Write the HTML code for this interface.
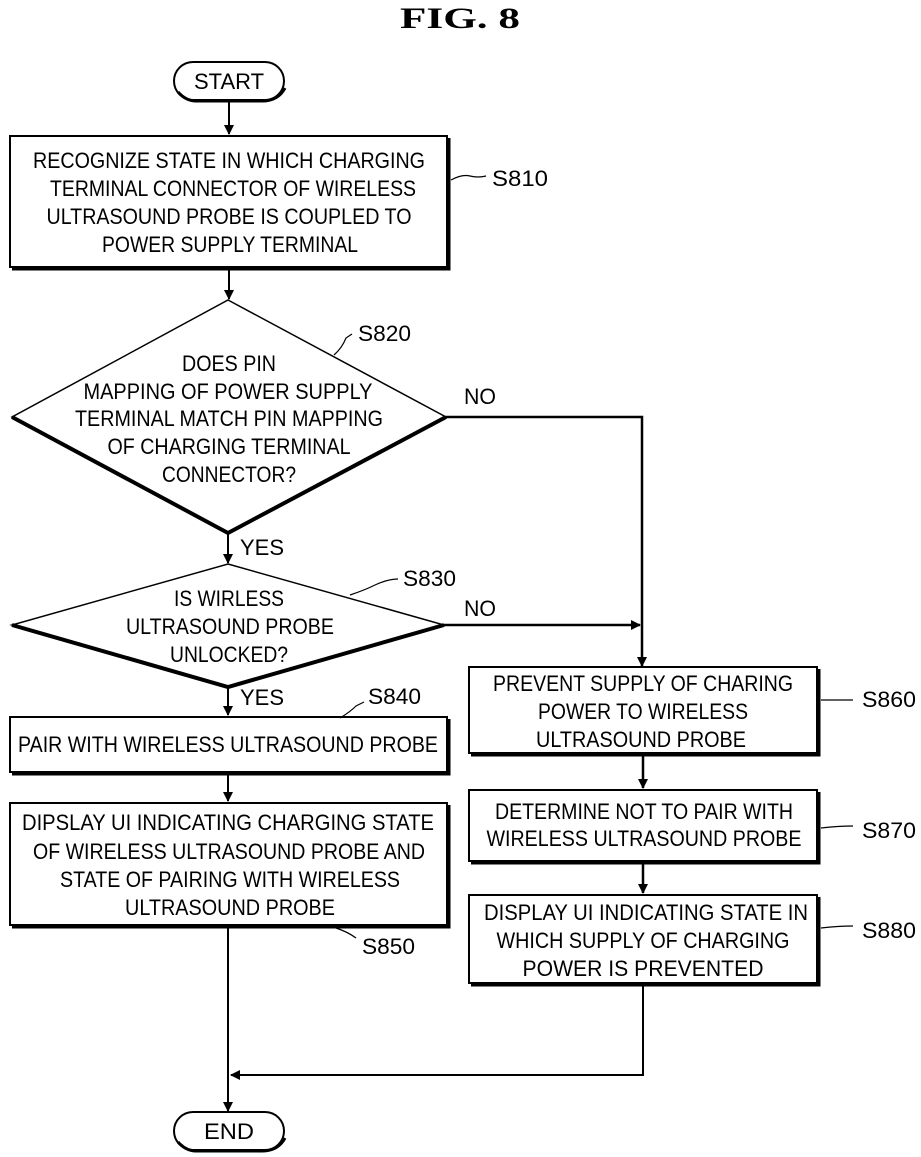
<!DOCTYPE html>
<html><head><meta charset="utf-8"><style>
html,body{margin:0;padding:0;background:#fff;}
svg{display:block;}
text{font-family:"Liberation Sans",sans-serif;font-size:22px;fill:#000;}
.c{text-anchor:middle;}
</style></head><body>
<svg width="921" height="1157" viewBox="0 0 921 1157" xmlns="http://www.w3.org/2000/svg">
<defs><marker id="a" markerWidth="10" markerHeight="14" refX="9" refY="7" orient="auto" markerUnits="userSpaceOnUse"><path d="M0,2 L10,7 L0,12 z" fill="#000"/></marker></defs>
<text x="460" y="28" class="c" style="font-family:'Liberation Serif',serif;font-size:30px;font-weight:bold" textLength="120" lengthAdjust="spacingAndGlyphs">FIG.  8</text>

<!-- START -->
<rect x="174" y="62" width="110" height="38" rx="19" fill="#fff" stroke="#000" stroke-width="2"/>
<path d="M178 92 Q186 101 196 101 L262 101 Q278 101 285 88" fill="none" stroke="#000" stroke-width="3"/>
<text x="229" y="89" class="c" textLength="70" lengthAdjust="spacingAndGlyphs">START</text>
<line x1="229" y1="101" x2="229" y2="134" stroke="#000" stroke-width="2" marker-end="url(#a)"/>

<!-- S810 -->
<rect x="10" y="136" width="437" height="131" fill="#fff" stroke="#000" stroke-width="2"/>
<path d="M12 269 L449 269 L449 138" fill="none" stroke="#000" stroke-width="3"/>
<text x="229" y="168" class="c" textLength="392" lengthAdjust="spacingAndGlyphs">RECOGNIZE STATE IN WHICH CHARGING</text>
<text x="233" y="196" class="c" textLength="366" lengthAdjust="spacingAndGlyphs">TERMINAL CONNECTOR OF WIRELESS</text>
<text x="229" y="224" class="c" textLength="365" lengthAdjust="spacingAndGlyphs">ULTRASOUND PROBE IS COUPLED TO</text>
<text x="230" y="252" class="c" textLength="256" lengthAdjust="spacingAndGlyphs">POWER SUPPLY TERMINAL</text>
<path d="M451 180 Q462 174 470 176 Q478 178 486 176" fill="none" stroke="#000" stroke-width="1.2"/>
<text x="492" y="186" textLength="56" lengthAdjust="spacingAndGlyphs">S810</text>
<line x1="229" y1="269" x2="229" y2="299" stroke="#000" stroke-width="2" marker-end="url(#a)"/>

<!-- S820 diamond -->
<path d="M228 300 L446 417 L228 533 L12 417 Z" fill="#fff" stroke="#000" stroke-width="1.5"/>
<path d="M12 417 L228 533 L446 417" fill="none" stroke="#000" stroke-width="4"/>
<text x="229" y="371" class="c" textLength="94" lengthAdjust="spacingAndGlyphs">DOES PIN</text>
<text x="228" y="399" class="c" textLength="289" lengthAdjust="spacingAndGlyphs">MAPPING OF POWER SUPPLY</text>
<text x="229" y="426" class="c" textLength="308" lengthAdjust="spacingAndGlyphs">TERMINAL MATCH PIN MAPPING</text>
<text x="229" y="454" class="c" textLength="243" lengthAdjust="spacingAndGlyphs">OF CHARGING TERMINAL</text>
<text x="229" y="482" class="c" textLength="134" lengthAdjust="spacingAndGlyphs">CONNECTOR?</text>
<path d="M334 355 Q342 348 346 338 L352 334" fill="none" stroke="#000" stroke-width="1.2"/>
<text x="358" y="341" textLength="53" lengthAdjust="spacingAndGlyphs">S820</text>
<text x="464" y="404" textLength="32" lengthAdjust="spacingAndGlyphs">NO</text>
<polyline points="446,417 642,417 642,666" fill="none" stroke="#000" stroke-width="2.5" marker-end="url(#a)"/>
<text x="240" y="555" textLength="44" lengthAdjust="spacingAndGlyphs">YES</text>
<line x1="228" y1="533" x2="228" y2="563" stroke="#000" stroke-width="2" marker-end="url(#a)"/>

<!-- S830 diamond -->
<path d="M228 564 L444 625 L228 687 L12 625 Z" fill="#fff" stroke="#000" stroke-width="1.5"/>
<path d="M12 625 L228 687 L444 625" fill="none" stroke="#000" stroke-width="4"/>
<text x="229" y="606" class="c" textLength="110" lengthAdjust="spacingAndGlyphs">IS WIRLESS</text>
<text x="230" y="634" class="c" textLength="208" lengthAdjust="spacingAndGlyphs">ULTRASOUND PROBE</text>
<text x="229" y="662" class="c" textLength="118" lengthAdjust="spacingAndGlyphs">UNLOCKED?</text>
<path d="M350 595 Q365 590 375 585 Q388 579 398 579" fill="none" stroke="#000" stroke-width="1.2"/>
<text x="403" y="586" textLength="53" lengthAdjust="spacingAndGlyphs">S830</text>
<text x="464" y="616" textLength="32" lengthAdjust="spacingAndGlyphs">NO</text>
<line x1="444" y1="625" x2="640" y2="625" stroke="#000" stroke-width="2.5" marker-end="url(#a)"/>
<text x="240" y="705" textLength="44" lengthAdjust="spacingAndGlyphs">YES</text>
<line x1="228" y1="687" x2="228" y2="715" stroke="#000" stroke-width="2" marker-end="url(#a)"/>

<!-- S840 -->
<rect x="10" y="717" width="437" height="55" fill="#fff" stroke="#000" stroke-width="2"/>
<path d="M12 774 L449 774 L449 719" fill="none" stroke="#000" stroke-width="3"/>
<text x="228" y="752" class="c" textLength="420" lengthAdjust="spacingAndGlyphs">PAIR WITH WIRELESS ULTRASOUND PROBE</text>
<path d="M340 718 Q350 712 356 706 L364 702" fill="none" stroke="#000" stroke-width="1.2"/>
<text x="368" y="704" textLength="53" lengthAdjust="spacingAndGlyphs">S840</text>
<line x1="228" y1="774" x2="228" y2="801" stroke="#000" stroke-width="2" marker-end="url(#a)"/>

<!-- S850 -->
<rect x="10" y="803" width="437" height="122" fill="#fff" stroke="#000" stroke-width="2"/>
<path d="M12 927 L449 927 L449 805" fill="none" stroke="#000" stroke-width="3"/>
<text x="228" y="830" class="c" textLength="412" lengthAdjust="spacingAndGlyphs">DIPSLAY UI INDICATING  CHARGING STATE</text>
<text x="229" y="859" class="c" textLength="392" lengthAdjust="spacingAndGlyphs">OF WIRELESS ULTRASOUND PROBE AND</text>
<text x="230" y="887" class="c" textLength="340" lengthAdjust="spacingAndGlyphs">STATE OF PAIRING WITH WIRELESS</text>
<text x="230" y="915" class="c" textLength="210" lengthAdjust="spacingAndGlyphs">ULTRASOUND PROBE</text>
<path d="M336 928 Q348 932 356 938" fill="none" stroke="#000" stroke-width="1.2"/>
<text x="362" y="954" textLength="53" lengthAdjust="spacingAndGlyphs">S850</text>
<line x1="228" y1="927" x2="228" y2="1111" stroke="#000" stroke-width="2" marker-end="url(#a)"/>

<!-- S860 -->
<rect x="469" y="667" width="348" height="86" fill="#fff" stroke="#000" stroke-width="2"/>
<path d="M471 755 L819 755 L819 669" fill="none" stroke="#000" stroke-width="3"/>
<text x="643" y="691" class="c" textLength="300" lengthAdjust="spacingAndGlyphs">PREVENT SUPPLY OF CHARING</text>
<text x="643" y="719" class="c" textLength="210" lengthAdjust="spacingAndGlyphs">POWER TO WIRELESS</text>
<text x="641" y="747" class="c" textLength="210" lengthAdjust="spacingAndGlyphs">ULTRASOUND PROBE</text>
<path d="M821 700 L853 700" fill="none" stroke="#000" stroke-width="1.2"/>
<text x="862" y="707" textLength="54" lengthAdjust="spacingAndGlyphs">S860</text>
<line x1="643" y1="755" x2="643" y2="788" stroke="#000" stroke-width="2.5" marker-end="url(#a)"/>

<!-- S870 -->
<rect x="469" y="790" width="348" height="71" fill="#fff" stroke="#000" stroke-width="2"/>
<path d="M471 863 L819 863 L819 792" fill="none" stroke="#000" stroke-width="3"/>
<text x="644" y="819" class="c" textLength="298" lengthAdjust="spacingAndGlyphs">DETERMINE NOT TO PAIR WITH</text>
<text x="644" y="846" class="c" textLength="315" lengthAdjust="spacingAndGlyphs">WIRELESS ULTRASOUND PROBE</text>
<path d="M821 828 Q838 826 853 826" fill="none" stroke="#000" stroke-width="1.2"/>
<text x="862" y="838" textLength="54" lengthAdjust="spacingAndGlyphs">S870</text>
<line x1="643" y1="863" x2="643" y2="893" stroke="#000" stroke-width="2.5" marker-end="url(#a)"/>

<!-- S880 -->
<rect x="469" y="895" width="348" height="88" fill="#fff" stroke="#000" stroke-width="2"/>
<path d="M471 985 L819 985 L819 897" fill="none" stroke="#000" stroke-width="3"/>
<text x="646" y="920" class="c" textLength="324" lengthAdjust="spacingAndGlyphs">DISPLAY UI INDICATING STATE IN</text>
<text x="643" y="948" class="c" textLength="293" lengthAdjust="spacingAndGlyphs">WHICH SUPPLY OF CHARGING</text>
<text x="643" y="976" class="c" textLength="241" lengthAdjust="spacingAndGlyphs">POWER IS PREVENTED</text>
<path d="M821 928 Q838 926 853 926" fill="none" stroke="#000" stroke-width="1.2"/>
<text x="862" y="938" textLength="54" lengthAdjust="spacingAndGlyphs">S880</text>
<polyline points="643,985 643,1075 231,1075" fill="none" stroke="#000" stroke-width="2" marker-end="url(#a)"/>

<!-- END -->
<rect x="174" y="1112" width="110" height="38" rx="19" fill="#fff" stroke="#000" stroke-width="2"/>
<path d="M178 1142 Q186 1151 196 1151 L262 1151 Q278 1151 285 1138" fill="none" stroke="#000" stroke-width="3"/>
<text x="229" y="1139" class="c" textLength="50" lengthAdjust="spacingAndGlyphs">END</text>
</svg>
</body></html>
